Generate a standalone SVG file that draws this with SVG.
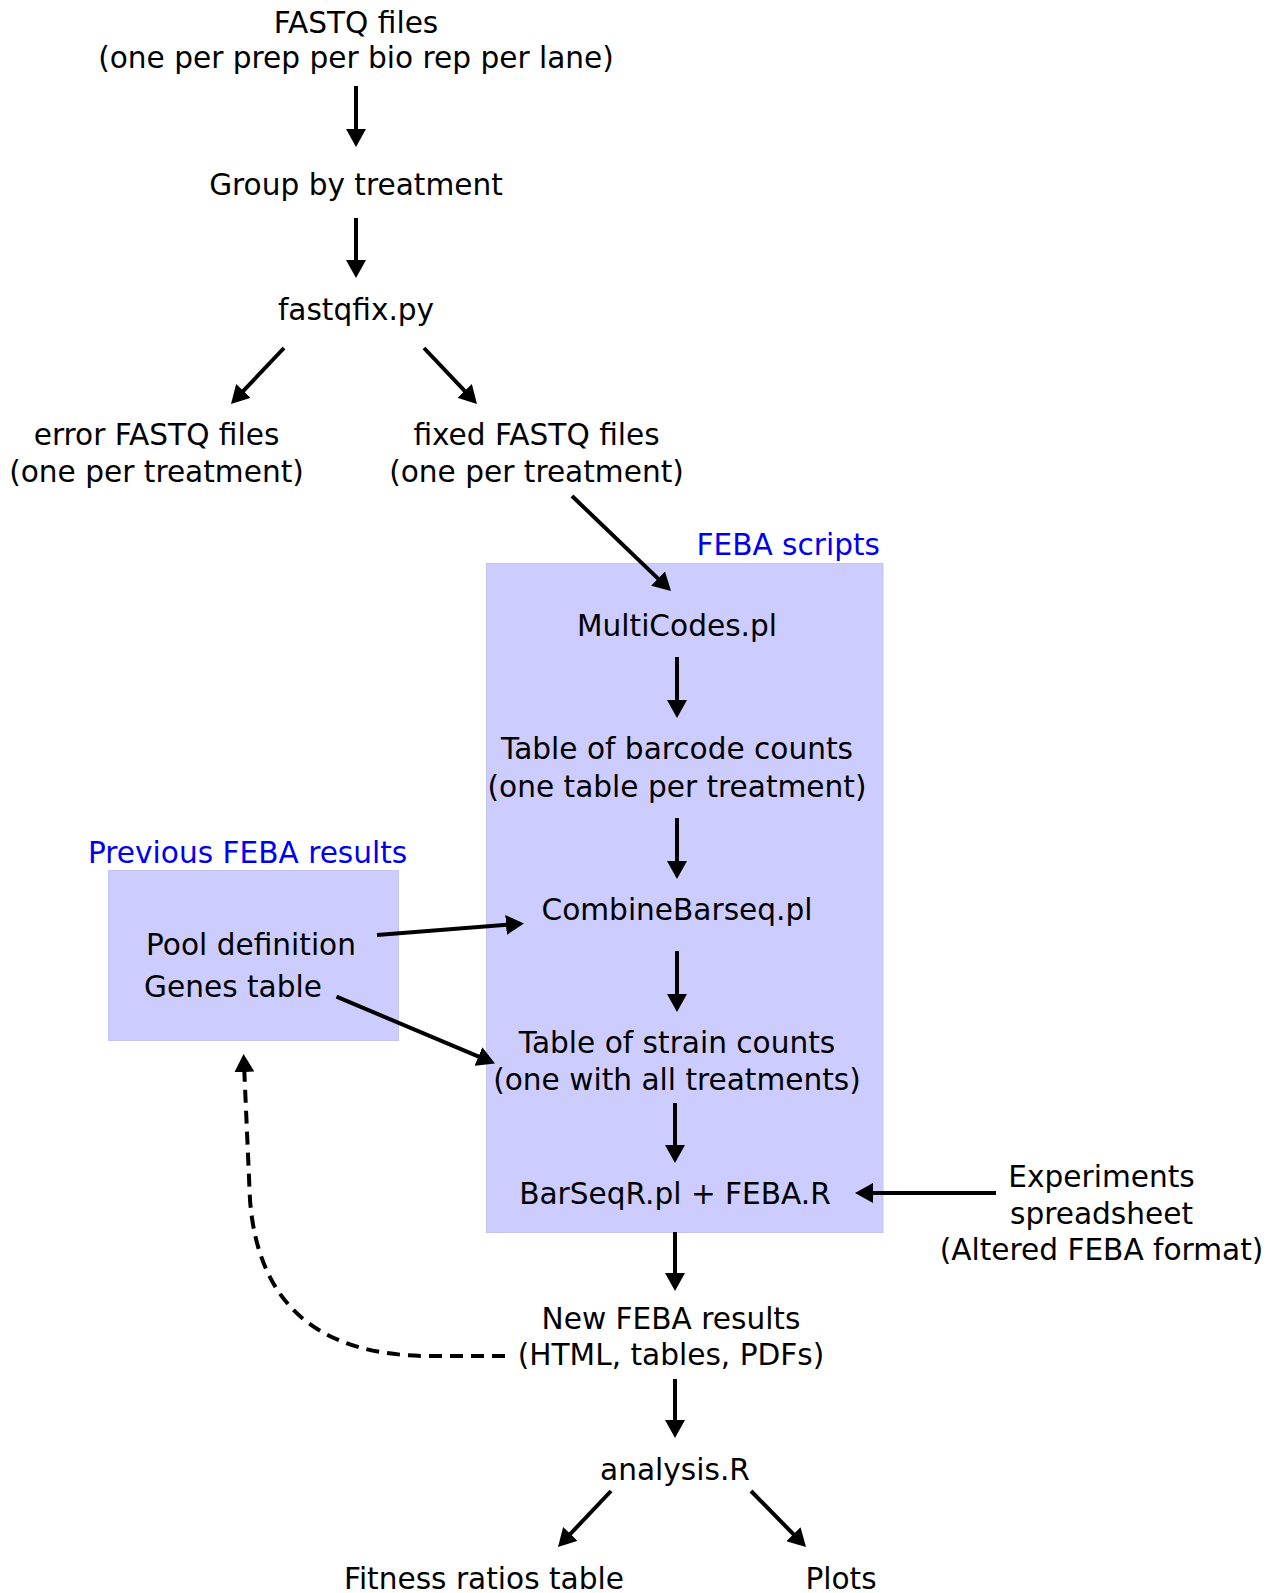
<svg xmlns="http://www.w3.org/2000/svg" width="1274" height="1593" viewBox="0 0 1274 1593">
<style>
text{font-family:"DejaVu Sans","Liberation Sans",sans-serif;font-size:29.6px;fill:#000;text-anchor:middle}
.blue{fill:#0000ee}
.box{fill:#ccccff;stroke:#c4c4ee;stroke-width:1}
.conn line,.conn path{stroke:#000;stroke-width:4;fill:none}
.dash{stroke-dasharray:13 8}
</style>
<defs>
<marker id="ah" viewBox="0 0 18 20" markerUnits="userSpaceOnUse" markerWidth="18" markerHeight="20" refX="8" refY="10" orient="auto">
<path d="M0,0 L18,10 L0,20 z" fill="#000"/>
</marker>
</defs>
<rect width="1274" height="1593" fill="#fff"/>
<g id="feba-scripts">
<rect class="box" x="486.5" y="563.5" width="396.5" height="669"/>
<text class="blue" x="880" y="554.5" style="text-anchor:end">FEBA scripts</text>
</g>
<g id="previous-feba">
<rect class="box" x="108.5" y="870.5" width="290" height="170"/>
<text class="blue" x="88" y="862.5" style="text-anchor:start">Previous FEBA results</text>
<text x="251" y="954.5">Pool definition</text>
<text x="233" y="996.5">Genes table</text>
</g>
<g id="fastq"><text x="356" y="32.5">FASTQ files</text><text x="356" y="67.5">(one per prep per bio rep per lane)</text></g>
<g id="group"><text x="356" y="194.5">Group by treatment</text></g>
<g id="fastqfix"><text x="356" y="319.5">fastqfix.py</text></g>
<g id="error-fastq"><text x="156.5" y="444.5">error FASTQ files</text><text x="156.5" y="481.5">(one per treatment)</text></g>
<g id="fixed-fastq"><text x="536.5" y="444.5">fixed FASTQ files</text><text x="536.5" y="481.5">(one per treatment)</text></g>
<g id="multicodes"><text x="677" y="635.5">MultiCodes.pl</text></g>
<g id="barcode-counts"><text x="677" y="758.5">Table of barcode counts</text><text x="677" y="796.5">(one table per treatment)</text></g>
<g id="combine"><text x="677" y="919.5">CombineBarseq.pl</text></g>
<g id="strain-counts"><text x="677" y="1052.5">Table of strain counts</text><text x="677" y="1089.5">(one with all treatments)</text></g>
<g id="barseqr"><text x="675" y="1203.5">BarSeqR.pl + FEBA.R</text></g>
<g id="experiments"><text x="1101.5" y="1186.5">Experiments</text><text x="1101.5" y="1223.5">spreadsheet</text><text x="1101.5" y="1259.5">(Altered FEBA format)</text></g>
<g id="new-feba"><text x="671" y="1328.5">New FEBA results</text><text x="671" y="1364.5">(HTML, tables, PDFs)</text></g>
<g id="analysis"><text x="675" y="1479.5">analysis.R</text></g>
<g id="fitness"><text x="484" y="1588.5">Fitness ratios table</text></g>
<g id="plots"><text x="841" y="1588.5">Plots</text></g>
<g class="conn" id="connectors">
<line x1="356" y1="86" x2="356" y2="137" marker-end="url(#ah)"/>
<line x1="356" y1="218" x2="356" y2="268" marker-end="url(#ah)"/>
<line x1="284" y1="348" x2="237.9" y2="396.7" marker-end="url(#ah)"/>
<line x1="424" y1="348" x2="470.1" y2="396.7" marker-end="url(#ah)"/>
<line x1="572" y1="496" x2="663.8" y2="584.1" marker-end="url(#ah)"/>
<line x1="677" y1="657" x2="677" y2="708" marker-end="url(#ah)"/>
<line x1="677" y1="818" x2="677" y2="869" marker-end="url(#ah)"/>
<line x1="377" y1="935" x2="514" y2="924.3" marker-end="url(#ah)"/>
<line x1="677" y1="951" x2="677" y2="1002" marker-end="url(#ah)"/>
<line x1="336.5" y1="996.7" x2="485.8" y2="1059.6" marker-end="url(#ah)"/>
<line x1="675" y1="1103" x2="675" y2="1153" marker-end="url(#ah)"/>
<line x1="996" y1="1193" x2="865" y2="1193" marker-end="url(#ah)"/>
<line x1="675" y1="1232" x2="675" y2="1281" marker-end="url(#ah)"/>
<line x1="675" y1="1379" x2="675" y2="1428" marker-end="url(#ah)"/>
<line x1="611" y1="1491" x2="564.9" y2="1539.7" marker-end="url(#ah)"/>
<line x1="751" y1="1491" x2="799" y2="1539.9" marker-end="url(#ah)"/>
<path class="dash" d="M505,1356 L430,1356 Q262,1356 250,1200 L244,1064" marker-end="url(#ah)"/>
</g>
</svg>
